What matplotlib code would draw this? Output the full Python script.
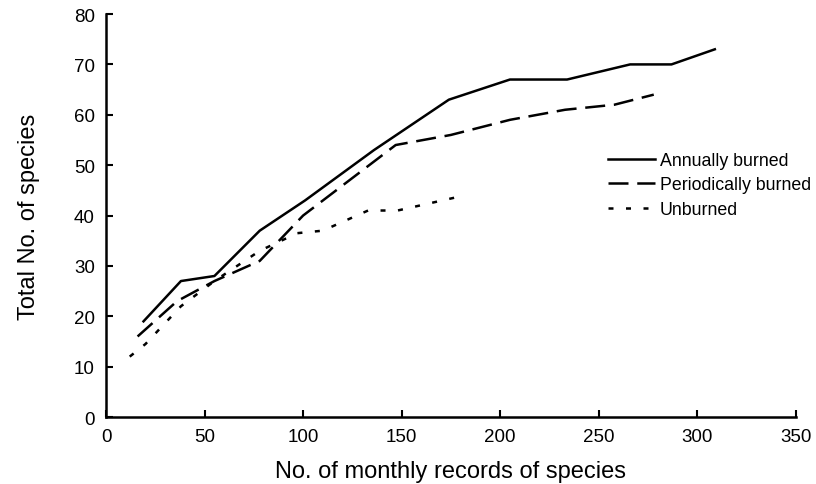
import matplotlib
matplotlib.use("Agg")
import matplotlib.pyplot as plt

plt.rcParams['font.family'] = ['Liberation Sans', 'DejaVu Sans']

# Annually burned
annual_x = [19, 38, 55, 78, 101, 136, 174, 205, 234, 266, 287, 309]
annual_y = [19, 27, 28, 37, 43, 53, 63, 67, 67, 70, 70, 73]
# Periodically burned
period_x = [16, 36, 55, 78, 100, 147, 175, 205, 233, 258, 278]
period_y = [16, 23, 27, 31, 40, 54, 56, 59, 61, 62, 64]
# Unburned
unburn_x = [12, 20, 38, 55, 78, 97, 110, 133, 148, 182]
unburn_y = [12, 14.5, 22, 27, 33, 36.5, 37, 41, 41, 44]

fig = plt.figure(figsize=(8.16, 4.85), dpi=100)
ax = fig.add_axes([0.130, 0.138, 0.845, 0.831])

ax.plot(annual_x, annual_y, color='black', lw=1.8, label='Annually burned')
ax.plot(period_x, period_y, color='black', lw=1.8, dashes=(8, 3.5), label='Periodically burned')
ax.plot(unburn_x, unburn_y, color='black', lw=1.8, dashes=(2, 5), label='Unburned')

ax.set_xlim(0, 350)
ax.set_ylim(0, 80)
ax.set_xticks(range(0, 351, 50))
ax.set_yticks(range(0, 81, 10))
for s in ['top', 'right']:
    ax.spines[s].set_visible(False)
for s in ['left', 'bottom']:
    ax.spines[s].set_linewidth(1.8)
ax.tick_params(direction='in', length=5, width=1.5, labelsize=13.5, pad=8)
for lab in ax.get_xticklabels() + ax.get_yticklabels():
    lab.set_family(['Liberation Sans Narrow', 'Liberation Sans'])

ax.set_xlabel('No. of monthly records of species', fontsize=17)
ax.set_ylabel('Total No. of species', fontsize=17)
ax.xaxis.set_label_coords(0.5, -0.106)
ax.yaxis.set_label_coords(-0.096, 0.5)

leg = ax.legend(loc='upper left', bbox_to_anchor=(608 / 816, 1 - 153 / 485),
                bbox_transform=fig.transFigure, frameon=False, fontsize=12.8,
                handlelength=2.65, handletextpad=0.28, labelspacing=0.42,
                borderpad=0, borderaxespad=0)

fig.savefig('out.png', dpi=100)
